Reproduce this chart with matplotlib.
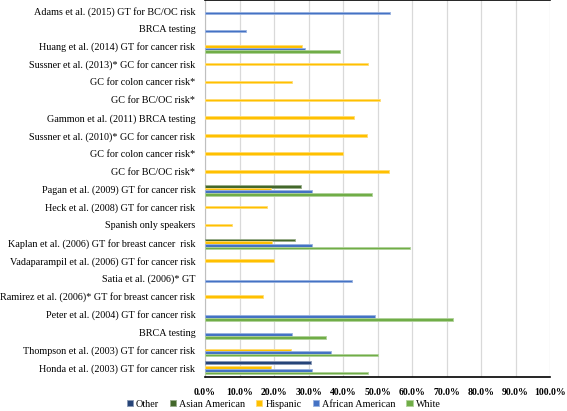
import numpy as np
import matplotlib.pyplot as plt
from matplotlib.ticker import PercentFormatter
from matplotlib.colors import to_rgb

plt.rcParams['font.family'] = ['Liberation Serif', 'DejaVu Serif']

# categories, top to bottom
studies = [
    "Adams et al. (2015) GT for BC/OC risk",
    "BRCA testing",
    "Huang et al. (2014) GT for cancer risk",
    "Sussner et al. (2013)* GC for cancer risk",
    "GC for colon cancer risk*",
    "GC for BC/OC risk*",
    "Gammon et al. (2011) BRCA testing",
    "Sussner et al. (2010)* GC for cancer risk",
    "GC for colon cancer risk*",
    "GC for BC/OC risk*",
    "Pagan et al. (2009) GT for cancer risk",
    "Heck et al. (2008) GT for cancer risk",
    "Spanish only speakers",
    "Kaplan et al. (2006) GT for breast cancer  risk",
    "Vadaparampil et al. (2006) GT for cancer risk",
    "Satia et al. (2006)* GT",
    "Ramirez et al. (2006)* GT for breast cancer risk",
    "Peter et al. (2004) GT for cancer risk",
    "BRCA testing",
    "Thompson et al. (2003) GT for cancer risk",
    "Honda et al. (2003) GT for cancer risk",
]

N = None
other =     [N, N, N, N, N, N, N, N, N, N, N, N, N, N, N, N, N, N, N, N, 30.6]
asian =     [N, N, N, N, N, N, N, N, N, N, 27.7, N, N, 26.2, N, N, N, N, N, N, N]
hispanic =  [N, N, 28.0, 47.3, 25.3, 50.7, 43.2, 46.9, 40.0, 53.3, 19.1, 17.9, 7.7,
             19.4, 20.0, N, 16.9, N, N, 24.9, 19.1]
african =   [53.6, 11.8, 29.0, N, N, N, N, N, N, N, 30.9, N, N, 31.0, N, 42.7, N,
             49.3, 25.1, 36.6, 30.9]
white =     [N, N, 39.0, N, N, N, N, N, N, N, 48.3, N, N, 59.4, N, N, N, 71.9,
             35.1, 50.2, 47.3]

series = [
    ("Other", other, "#264478"),
    ("Asian American", asian, "#43682B"),
    ("Hispanic", hispanic, "#FFC000"),
    ("African American", african, "#4472C4"),
    ("White", white, "#70AD47"),
]

fig = plt.figure(figsize=(5.67, 4.11), dpi=100)
ax = fig.add_axes([0.3616, 0.0827, 0.6085, 0.9173])

y = np.arange(len(studies))
h = 0.146
for k, (name, vals, col) in enumerate(series):
    v = np.array([np.nan if a is None else a for a in vals], dtype=float)
    light = tuple(0.55 * c + 0.45 for c in to_rgb(col))  # soft glow round the bar
    ax.barh(y + (k - 2) * h, v, height=h, color=col, edgecolor=light,
            linewidth=0.6, label=name, zorder=3)

ax.set_xlim(0, 100)
ax.set_ylim(20.52, -0.59)
ax.set_xticks(np.arange(0, 101, 10))
ax.xaxis.set_major_formatter(PercentFormatter(decimals=1))
ax.set_yticks(y)
ax.set_yticklabels(studies, fontsize=7.3)
for t in ax.get_xticklabels():
    t.set_fontweight('bold')
    t.set_fontsize(7)
ax.tick_params(length=0)
ax.tick_params(axis='y', pad=7)
ax.tick_params(axis='x', pad=8)

ax.grid(axis='x', color='#D9D9D9', linewidth=0.9, zorder=0)
ax.spines['right'].set_visible(False)
ax.spines['left'].set_color('#BFBFBF')
ax.spines['left'].set_linewidth(0.8)
ax.spines['top'].set_color('black')
ax.spines['top'].set_linewidth(1.2)
ax.spines['bottom'].set_color('black')
ax.spines['bottom'].set_linewidth(1.2)

fig.legend(loc='center', bbox_to_anchor=(0.5, 0.017), ncol=5, frameon=False,
           prop={'size': 7.3}, handlelength=0.6, handleheight=0.6,
           handletextpad=0.3, columnspacing=1.1)

fig.savefig("out.png", dpi=100)
